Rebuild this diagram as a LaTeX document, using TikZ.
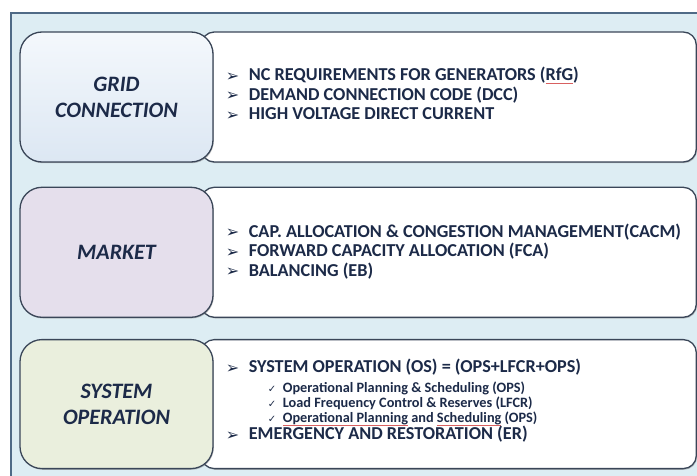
\documentclass[tikz,border=0pt]{standalone}
\usepackage{fontspec}
\usetikzlibrary{positioning, shadows, backgrounds}
\newfontfamily\calib{Carlito}
\newfontfamily\symb{DejaVu Sans}
\definecolor{navy}{HTML}{1C2A48}
\definecolor{framebg}{HTML}{DDEDF3}
\definecolor{frameline}{HTML}{4F6A86}
\definecolor{boxline}{HTML}{3A4658}
\definecolor{gridtop}{HTML}{F4F8FC}
\definecolor{gridbot}{HTML}{DCE7F3}
\definecolor{marketfill}{HTML}{E5DFEC}
\definecolor{sysopfill}{HTML}{EAEFDD}
\definecolor{spellred}{HTML}{D86060}
% bullets and ticks
\newcommand{\bul}{\makebox[23pt][l]{\raisebox{-0.5pt}{\symb\fontsize{16}{16}\selectfont ➢}}}
\newcommand{\chk}{\hspace*{42pt}\makebox[15pt][l]{\symb\fontsize{10}{10}\selectfont ✓}}
\newcommand{\sub}{\fontsize{14.3}{15}\selectfont}
\newlength{\spellw}
\newcommand{\spell}[1]{\settowidth{\spellw}{#1}\rlap{\color{spellred}\rule[-2.6pt]{\spellw}{0.5pt}}#1}

\begin{document}
\begin{tikzpicture}[
  x=1pt, y=-1pt,
  node distance=24pt,
  topic/.style={rectangle, draw=boxline, line width=1.3pt, rounded corners=22pt,
                minimum width=193pt, minimum height=130pt, inner sep=0pt,
                align=center, text=navy,
                font=\calib\bfseries\itshape\fontsize{22}{26}\selectfont,
                drop shadow={shadow xshift=0.8pt, shadow yshift=-1.2pt, opacity=0.45}},
  panel/.style={rectangle, draw=boxline, line width=1.3pt, rounded corners=13pt,
                fill=white, minimum width=495pt, minimum height=130pt, inner sep=0pt,
                drop shadow={shadow xshift=0.8pt, shadow yshift=-1.2pt, opacity=0.45}},
  items/.style={inner sep=0pt, align=left, text=navy,
                font=\calib\bfseries\fontsize{18.2}{19.5}\selectfont}
]
  \useasboundingbox (0,0) rectangle (697,476);

  % frame
  \begin{pgfonlayer}{background}
    \fill[framebg] (11,13) rectangle (697,476);
    \draw[frameline, line width=1.6pt] (697,13) -- (11,13) -- (11,476);
  \end{pgfonlayer}

  % topics on the left
  \node[topic, top color=gridtop, bottom color=gridbot] (grid) at (116.5,97) {GRID\\CONNECTION};
  \node[topic, fill=marketfill, below=of grid] (market) {MARKET};
  \node[topic, fill=sysopfill, below=21pt of market, minimum height=129pt] (sysop) {SYSTEM\\OPERATION};

  % white panels behind them
  \begin{pgfonlayer}{background}
    \node[panel, right=-13pt of grid] (gridpanel) {};
    \node[panel, right=-13pt of market] (marketpanel) {};
    \node[panel, right=-13pt of sysop, minimum height=129pt] (sysoppanel) {};
  \end{pgfonlayer}

  % codes
  \node[items, right=12pt of grid, yshift=3.5pt] (gridlist) {%
    \bul NC REQUIREMENTS FOR GENERATORS (\spell{RfG})\\
    \bul DEMAND CONNECTION CODE (DCC)\\
    \bul HIGH VOLTAGE DIRECT CURRENT};
  \node[items, right=12pt of market, yshift=1pt] (marketlist) {%
    \bul CAP. ALLOCATION \& CONGESTION MANAGEMENT(CACM)\\
    \bul FORWARD CAPACITY ALLOCATION (FCA)\\
    \bul BALANCING (EB)};
  \node[items, right=12pt of sysop, yshift=3pt] (sysoplist) {%
    \bul SYSTEM OPERATION (OS) = (OPS+LFCR+OPS)\\[0.5pt]
    {\sub\chk Operational Planning \& Scheduling (OPS)}\\[-4.5pt]
    {\sub\chk Load Frequency Control \& Reserves (LFCR)}\\[-4.5pt]
    {\sub\chk \spell{Operational Planning} and \spell{Scheduling} (OPS)}\\[-2.5pt]
    \bul EMERGENCY AND RESTORATION (ER)};
\end{tikzpicture}
\end{document}
